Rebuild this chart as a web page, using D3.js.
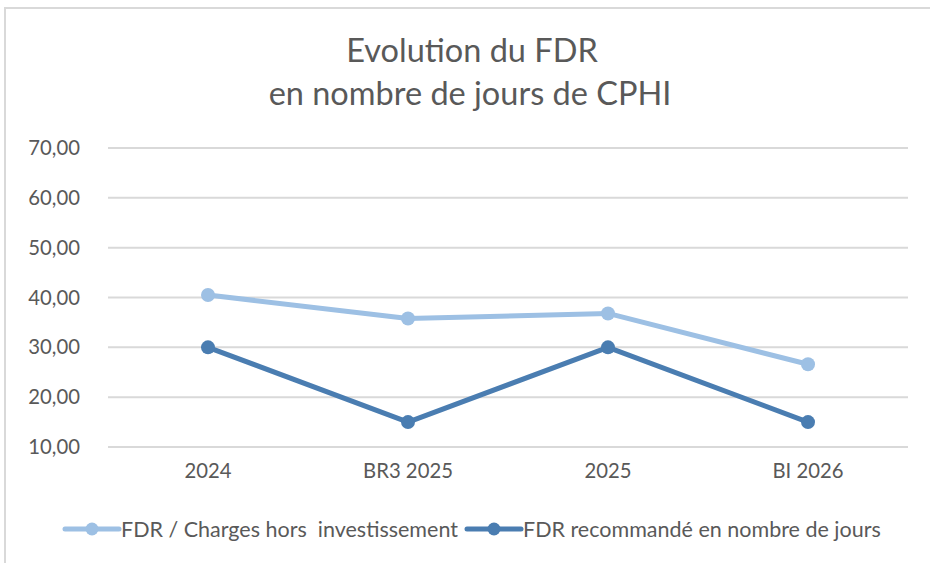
<!DOCTYPE html>
<html>
<head>
<meta charset="utf-8">
<script src="https://cdn.jsdelivr.net/npm/d3@7"></script>
<style>
  body { margin: 0; background: #fff; }
  text { font-family: Lato, "Open Sans", sans-serif; fill: #595959; }
</style>
</head>
<body>
<div id="chart"></div>
<script>
// chart data
const categories = ["2024", "BR3 2025", "2025", "BI 2026"];
const fdrCharges = [40.5, 35.8, 36.8, 26.6];
const fdrRecommande = [30, 15, 30, 15];
const yTicks = [10, 20, 30, 40, 50, 60, 70];
const seriesNames = ["FDR / Charges hors  investissement", "FDR recommandé en nombre de jours"];
const seriesColors = ["#9dc0e4", "#4a7db1"];

const width = 930, height = 563;

const svg = d3.select("#chart")
    .append("svg")
    .attr("width", width)
    .attr("height", height);

// chart frame
svg.append("rect")
    .attr("x", 5)
    .attr("y", 8)
    .attr("width", 960)
    .attr("height", 600)
    .attr("fill", "none")
    .attr("stroke", "#d9d9d9")
    .attr("stroke-width", 2);

// title
svg.append("text")
    .attr("x", 472)
    .attr("y", 62)
    .attr("text-anchor", "middle")
    .style("font-size", "32.5px")
    .text("Evolution du FDR");
svg.append("text")
    .attr("x", 470)
    .attr("y", 105)
    .attr("text-anchor", "middle")
    .style("font-size", "32.5px")
    .text("en nombre de jours de CPHI");

const xScale = d3.scaleBand()
    .domain(categories)
    .range([108, 908]);

const yScale = d3.scaleLinear()
    .domain([10, 70])
    .range([447, 148]);

// gridlines
svg.append("g")
    .selectAll("line")
    .data(yTicks)
    .enter()
    .append("line")
    .attr("x1", 108)
    .attr("x2", 908)
    .attr("y1", d => yScale(d))
    .attr("y2", d => yScale(d))
    .attr("stroke", "#d9d9d9")
    .attr("stroke-width", 2);

// y axis labels
const yAxis = d3.axisLeft(yScale)
    .tickValues(yTicks)
    .tickSize(0)
    .tickPadding(0)
    .tickFormat(d => d3.format(".2f")(d).replace(".", ","));
const yg = svg.append("g").attr("transform", "translate(80, 0)").call(yAxis);
yg.select(".domain").remove();
yg.selectAll("text").style("font-size", "20.3px").attr("fill", "#595959");

// x axis labels
const xAxis = d3.axisBottom(xScale).tickSize(0).tickPadding(0);
const xg = svg.append("g").attr("transform", "translate(0, 464)").call(xAxis);
xg.select(".domain").remove();
xg.selectAll("text").style("font-size", "20.3px").attr("fill", "#595959");

const cx = d => xScale(d) + xScale.bandwidth() / 2;

const line = d3.line()
    .x(d => cx(d.cat))
    .y(d => yScale(d.value));

[fdrCharges, fdrRecommande].forEach((values, s) => {
    const pts = values.map((v, i) => ({cat: categories[i], value: v}));
    svg.append("path")
        .datum(pts)
        .attr("d", line)
        .attr("fill", "none")
        .attr("stroke", seriesColors[s])
        .attr("stroke-width", 5)
        .attr("stroke-linejoin", "round");
    svg.selectAll(null)
        .data(pts)
        .enter()
        .append("circle")
        .attr("cx", d => cx(d.cat))
        .attr("cy", d => yScale(d.value))
        .attr("r", 7)
        .attr("fill", seriesColors[s]);
});

// legend
const legendX = [65, 467];
seriesNames.forEach((name, s) => {
    const g = svg.append("g").attr("transform", `translate(${legendX[s]}, 529)`);
    g.append("line")
        .attr("x1", 0)
        .attr("x2", 54)
        .attr("stroke", seriesColors[s])
        .attr("stroke-width", 5)
        .attr("stroke-linecap", "round");
    g.append("circle")
        .attr("cx", 27)
        .attr("r", 6.5)
        .attr("fill", seriesColors[s]);
    g.append("text")
        .attr("x", 56)
        .attr("y", 8)
        .style("font-size", "21.5px")
        .style("white-space", "pre")
        .text(name);
});
</script>
</body>
</html>
